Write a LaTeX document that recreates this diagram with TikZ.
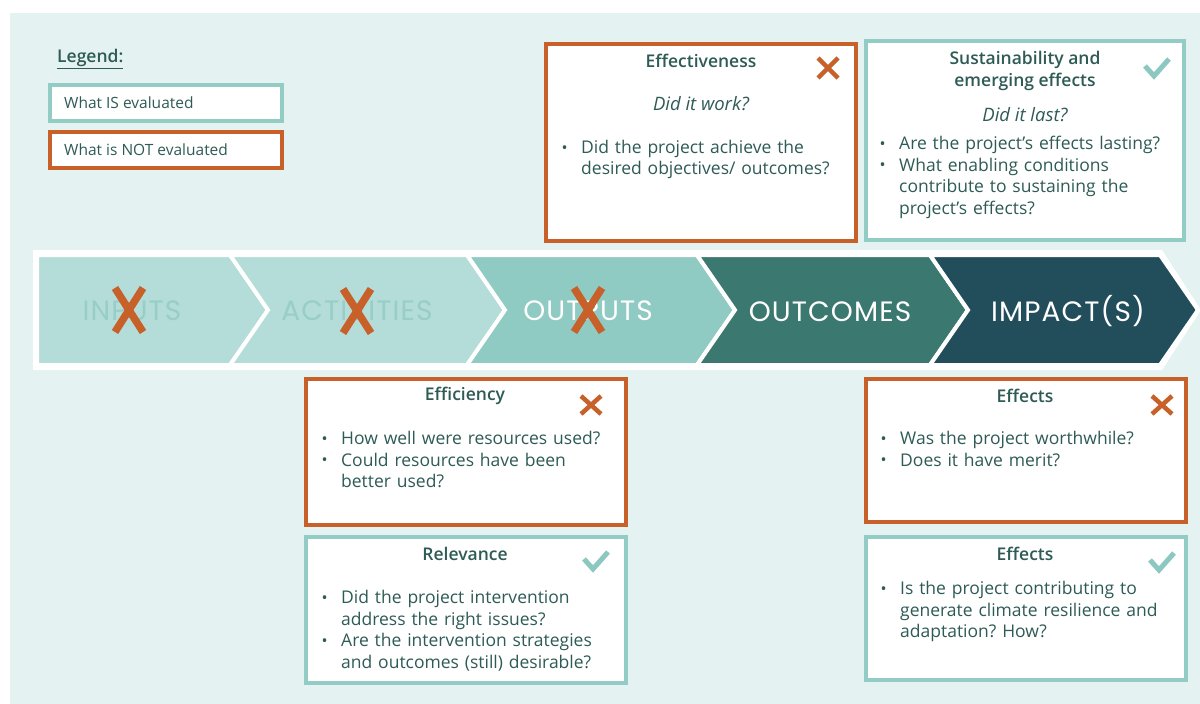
\documentclass[tikz,border=0pt]{standalone}
\usepackage{fontspec}
\setmainfont{Open Sans}[BoldFont={Open Sans Semibold}]
\newfontfamily\chevfont{Poppins}[LetterSpace=4]
\frenchspacing
\definecolor{panel}{HTML}{E4F2F1}
\definecolor{tealb}{HTML}{93CCC5}
\definecolor{checkc}{HTML}{8CC8C1}
\definecolor{orng}{HTML}{C8602A}
\definecolor{txt}{HTML}{2E5B55}
\definecolor{chA}{HTML}{B4DCD8}
\definecolor{chB}{HTML}{8FCAC3}
\definecolor{chC}{HTML}{3B7870}
\definecolor{chD}{HTML}{224E5C}
\definecolor{chT}{HTML}{98CEC7}
\newcommand{\bl}{\makebox[20pt][l]{\hspace{0.5pt}\raisebox{0.3pt}{\fontsize{16}{16}\selectfont •}}}
\newcommand{\cl}{\hspace*{20pt}}
\begin{document}
\begin{tikzpicture}[x=1pt,y=-1pt,
  okbox/.style={draw=tealb, line width=3.5pt, fill=white, anchor=north west, inner sep=0pt, outer sep=0pt},
  nobox/.style={draw=orng, line width=3.5pt, fill=white, anchor=north west, inner sep=0pt, outer sep=0pt},
  boxtitle/.style={text=txt, font=\fontsize{17.5}{22}\selectfont\bfseries, align=center, inner sep=0pt},
  subq/.style={text=txt, font=\fontsize{18.5}{22}\selectfont\itshape, inner sep=0pt},
  bul/.style={text=txt, font=\fontsize{17.5}{21.5}\selectfont\frenchspacing, text width=310pt, align=left, anchor=north west, inner sep=0pt},
  chev/.style={draw=white, line width=4pt, line join=miter},
  chevtext/.style={font=\chevfont\fontsize{28}{28}\selectfont, inner sep=0pt},
  bigx/.style={draw=orng, line width=7.5pt},
  smallx/.style={draw=orng, line width=4.5pt},
  tick/.style={draw=checkc, line width=5pt},
  legbox/.style={line width=3.5pt, fill=white, anchor=north west, minimum width=232pt, minimum height=36pt, inner sep=0pt, outer sep=0pt},
  legtext/.style={text=txt, font=\fontsize{15.5}{17}\selectfont, anchor=west, inner sep=0pt}
]
\useasboundingbox (0,0) rectangle (1200,704);
\fill[white] (0,0) rectangle (1200,704);
\fill[panel] (10,13) rectangle (1200,704);

% legend
\node[text=txt, font=\fontsize{17.5}{20}\selectfont\bfseries, anchor=west, inner sep=0pt] (leg) at (57,59) {\underline{Legend:}};
\node[legbox, draw=tealb] (legok) at (50,85) {};
\node[legtext] (legokt) at (64,103) {What IS evaluated};
\node[legbox, draw=orng] (legno) at (50,132) {};
\node[legtext] (legnot) at (64,150) {What is NOT evaluated};

% chevron band
\fill[white] (33,250) -- (1162,250) -- (1201,310) -- (1162,370) -- (33,370) -- cycle;
\path[chev, fill=chA] (37,255) -- (230,255) -- (268,310) -- (230,365) -- (37,365) -- cycle;
\path[chev, fill=chA] (230,255) -- (467,255) -- (505,310) -- (467,365) -- (230,365) -- (268,310) -- cycle;
\path[chev, fill=chB] (467,255) -- (697,255) -- (735,310) -- (697,365) -- (467,365) -- (505,310) -- cycle;
\path[chev, fill=chC] (697,255) -- (930,255) -- (968,310) -- (930,365) -- (697,365) -- (735,310) -- cycle;
\path[chev, fill=chD] (930,255) -- (1160,255) -- (1198,310) -- (1160,365) -- (930,365) -- (968,310) -- cycle;

\node[chevtext, text=chT] (inp) at (132,311) {INPUTS};
\node[chevtext, text=chT] (act) at (357,311) {ACTIVITIES};
\node[chevtext, text=white] (outp) at (588,311) {OUTPUTS};
\node[chevtext, text=white] (outc) at (830,312) {OUTCOMES};
\node[chevtext, text=white] (imp) at (1068,311) {IMPACT(S)};

\draw[bigx] (115,288) -- (143,332) (143,288) -- (115,332);
\draw[bigx] (343,289) -- (371,333) (371,289) -- (343,333);
\draw[bigx] (574,288) -- (602,332) (602,288) -- (574,332);

% Effectiveness
\node[nobox, minimum width=310pt, minimum height=197pt] (eff) at (546,44) {};
\node[boxtitle] (efft) at (701,61) {Effectiveness};
\node[subq] (effq) at (701,104) {Did it work?};
\node[bul] (effb) at (561,140) {\bl Did the project achieve the\\ \cl desired objectives/ outcomes?};
\draw[smallx] (818,58) -- (838,78) (838,58) -- (818,78);

% Sustainability
\node[okbox, minimum width=318pt, minimum height=199pt] (sus) at (866,41) {};
\node[boxtitle, font=\fontsize{17.5}{22}\selectfont\bfseries] (sust) at (1025,71) {Sustainability and\\emerging effects};
\node[subq] (susq) at (1025,115) {Did it last?};
\node[bul] (susb) at (879,136) {\bl Are the project’s effects lasting?\\ \bl What enabling conditions\\ \cl contribute to sustaining the\\ \cl project’s effects?};
\draw[tick] (1145,66) -- (1154,76) -- (1169,59);

% Efficiency
\node[nobox, minimum width=320pt, minimum height=146pt] (effi) at (306,379) {};
\node[boxtitle] (effit) at (465,396) {Efficiency};
\node[bul] (effib) at (321,431) {\bl How well were resources used?\\ \bl Could resources have been\\ \cl better used?};
\draw[smallx] (581,396) -- (601,414) (601,396) -- (581,414);

% Relevance
\node[okbox, minimum width=320pt, minimum height=146pt] (rel) at (306,537) {};
\node[boxtitle] (relt) at (465,554) {Relevance};
\node[bul] (relb) at (321,590) {\bl Did the project intervention\\ \cl address the right issues?\\ \bl Are the intervention strategies\\ \cl and outcomes (still) desirable?};
\draw[tick] (584,559) -- (593,569) -- (608,552);

% Effects (not evaluated)
\node[nobox, minimum width=320pt, minimum height=143pt] (efx) at (866,379) {};
\node[boxtitle] (efxt) at (1025,396) {Effects};
\node[bul] (efxb) at (880,431) {\bl Was the project worthwhile?\\ \bl Does it have merit?};
\draw[smallx] (1152,396) -- (1172,414) (1172,396) -- (1152,414);

% Effects (evaluated)
\node[okbox, minimum width=320pt, minimum height=143pt] (efo) at (866,537) {};
\node[boxtitle] (efot) at (1025,554) {Effects};
\node[bul] (efob) at (880,581) {\bl Is the project contributing to\\ \cl generate climate resilience and\\ \cl adaptation? How?};
\draw[tick] (1150,560) -- (1159,570) -- (1174,553);
\end{tikzpicture}
\end{document}
